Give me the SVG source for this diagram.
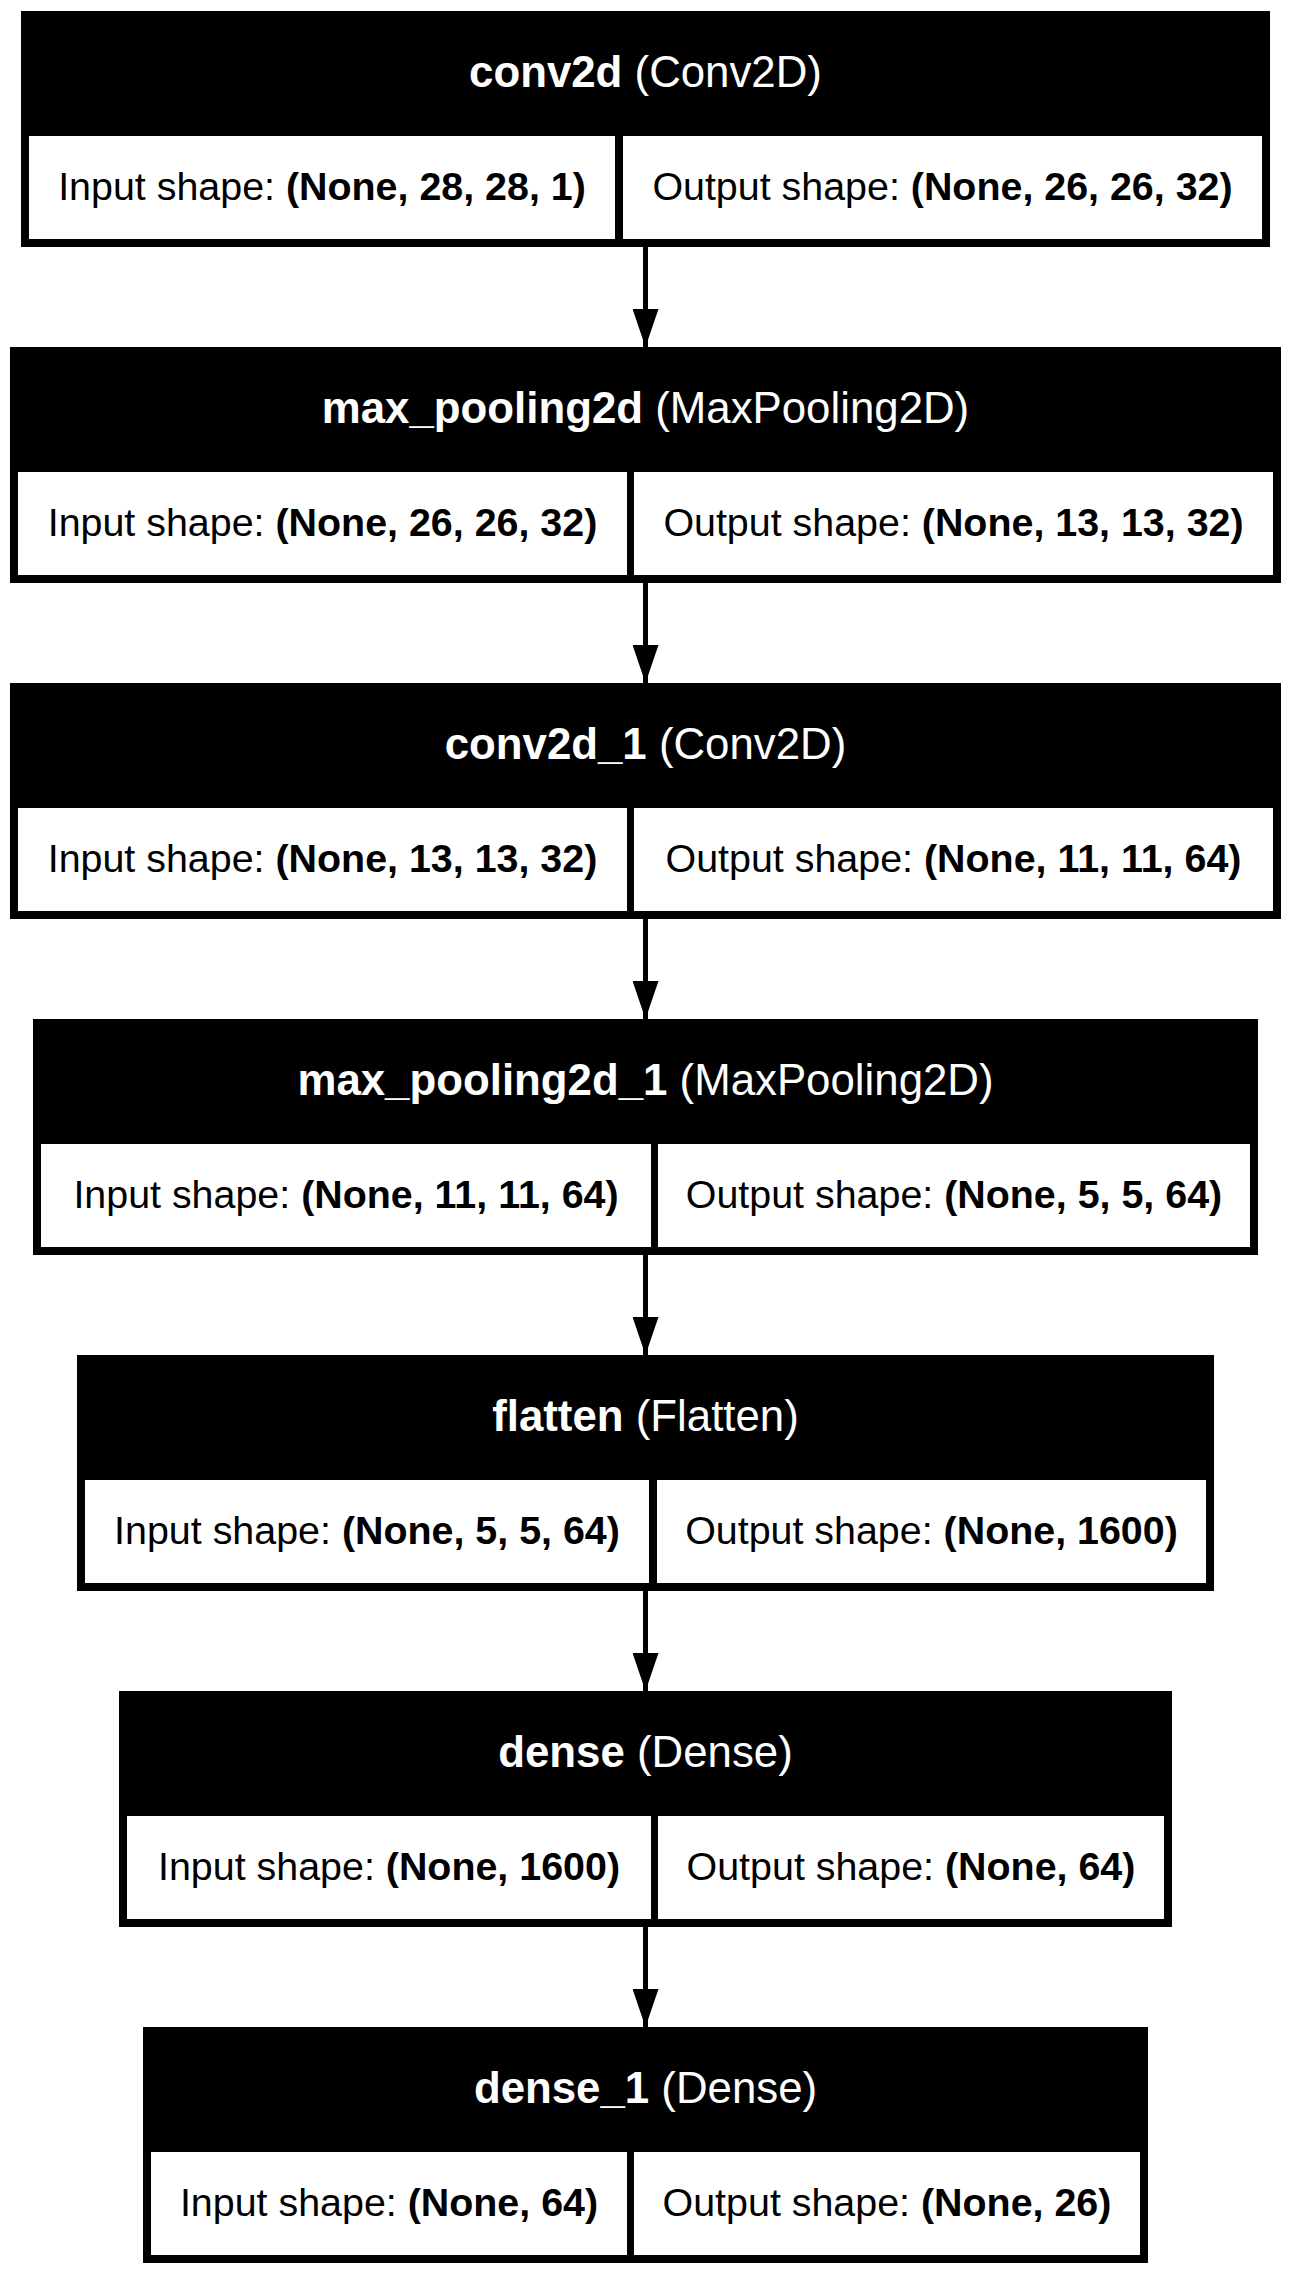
<svg xmlns="http://www.w3.org/2000/svg" width="1292" height="2275" viewBox="0 0 1292 2275">
<style>
.box{fill:#000}
.cell{fill:#fff}
.hd{font-family:"Liberation Sans",Arial,sans-serif;font-size:43.8px;fill:#fff;text-anchor:middle}
.ct{font-family:"Liberation Sans",Arial,sans-serif;font-size:39.4px;fill:#000;text-anchor:middle}
.b{font-weight:bold}
.edge{stroke:#000;stroke-width:5;fill:none}
</style>
<defs>
<marker id="ah" markerUnits="userSpaceOnUse" viewBox="0 0 38 26" refX="38" refY="13" markerWidth="38" markerHeight="26" orient="auto">
<path d="M0,0 L38,13 L0,26 z" fill="#000"/>
</marker>
</defs>
<rect width="1292" height="2275" fill="#fff"/>
<g id="connectors">
<line class="edge" x1="645.5" y1="247" x2="645.5" y2="347" marker-end="url(#ah)"/>
<line class="edge" x1="645.5" y1="583" x2="645.5" y2="683" marker-end="url(#ah)"/>
<line class="edge" x1="645.5" y1="919" x2="645.5" y2="1019" marker-end="url(#ah)"/>
<line class="edge" x1="645.5" y1="1255" x2="645.5" y2="1355" marker-end="url(#ah)"/>
<line class="edge" x1="645.5" y1="1591" x2="645.5" y2="1691" marker-end="url(#ah)"/>
<line class="edge" x1="645.5" y1="1927" x2="645.5" y2="2027" marker-end="url(#ah)"/>
</g>
<g id="conv2d">
<rect class="box" x="21" y="11" width="1249" height="236"/>
<rect class="cell" x="29" y="136" width="586" height="103"/>
<rect class="cell" x="623" y="136" width="639" height="103"/>
<text class="hd" x="645.5" y="87"><tspan class="b">conv2d</tspan> (Conv2D)</text>
<text class="ct" x="322" y="199.5">Input shape: <tspan class="b">(None, 28, 28, 1)</tspan></text>
<text class="ct" x="942.5" y="199.5">Output shape: <tspan class="b">(None, 26, 26, 32)</tspan></text>
</g>
<g id="max_pooling2d">
<rect class="box" x="10" y="347" width="1271" height="236"/>
<rect class="cell" x="18" y="472" width="609" height="103"/>
<rect class="cell" x="634" y="472" width="639" height="103"/>
<text class="hd" x="645.5" y="423"><tspan class="b">max_pooling2d</tspan> (MaxPooling2D)</text>
<text class="ct" x="322.5" y="535.5">Input shape: <tspan class="b">(None, 26, 26, 32)</tspan></text>
<text class="ct" x="953.5" y="535.5">Output shape: <tspan class="b">(None, 13, 13, 32)</tspan></text>
</g>
<g id="conv2d_1">
<rect class="box" x="10" y="683" width="1271" height="236"/>
<rect class="cell" x="18" y="808" width="609" height="103"/>
<rect class="cell" x="634" y="808" width="639" height="103"/>
<text class="hd" x="645.5" y="759"><tspan class="b">conv2d_1</tspan> (Conv2D)</text>
<text class="ct" x="322.5" y="871.5">Input shape: <tspan class="b">(None, 13, 13, 32)</tspan></text>
<text class="ct" x="953.5" y="871.5">Output shape: <tspan class="b">(None, 11, 11, 64)</tspan></text>
</g>
<g id="max_pooling2d_1">
<rect class="box" x="33" y="1019" width="1225" height="236"/>
<rect class="cell" x="41" y="1144" width="610" height="103"/>
<rect class="cell" x="658" y="1144" width="592" height="103"/>
<text class="hd" x="645.5" y="1095"><tspan class="b">max_pooling2d_1</tspan> (MaxPooling2D)</text>
<text class="ct" x="346" y="1207.5">Input shape: <tspan class="b">(None, 11, 11, 64)</tspan></text>
<text class="ct" x="954" y="1207.5">Output shape: <tspan class="b">(None, 5, 5, 64)</tspan></text>
</g>
<g id="flatten">
<rect class="box" x="77" y="1355" width="1137" height="236"/>
<rect class="cell" x="85" y="1480" width="564" height="103"/>
<rect class="cell" x="657" y="1480" width="549" height="103"/>
<text class="hd" x="645.5" y="1431"><tspan class="b">flatten</tspan> (Flatten)</text>
<text class="ct" x="367" y="1543.5">Input shape: <tspan class="b">(None, 5, 5, 64)</tspan></text>
<text class="ct" x="931.5" y="1543.5">Output shape: <tspan class="b">(None, 1600)</tspan></text>
</g>
<g id="dense">
<rect class="box" x="119" y="1691" width="1053" height="236"/>
<rect class="cell" x="127" y="1816" width="524" height="103"/>
<rect class="cell" x="658" y="1816" width="506" height="103"/>
<text class="hd" x="645.5" y="1767"><tspan class="b">dense</tspan> (Dense)</text>
<text class="ct" x="389" y="1879.5">Input shape: <tspan class="b">(None, 1600)</tspan></text>
<text class="ct" x="911" y="1879.5">Output shape: <tspan class="b">(None, 64)</tspan></text>
</g>
<g id="dense_1">
<rect class="box" x="143" y="2027" width="1005" height="236"/>
<rect class="cell" x="151" y="2152" width="476" height="103"/>
<rect class="cell" x="634" y="2152" width="506" height="103"/>
<text class="hd" x="645.5" y="2103"><tspan class="b">dense_1</tspan> (Dense)</text>
<text class="ct" x="389" y="2215.5">Input shape: <tspan class="b">(None, 64)</tspan></text>
<text class="ct" x="887" y="2215.5">Output shape: <tspan class="b">(None, 26)</tspan></text>
</g>
</svg>
